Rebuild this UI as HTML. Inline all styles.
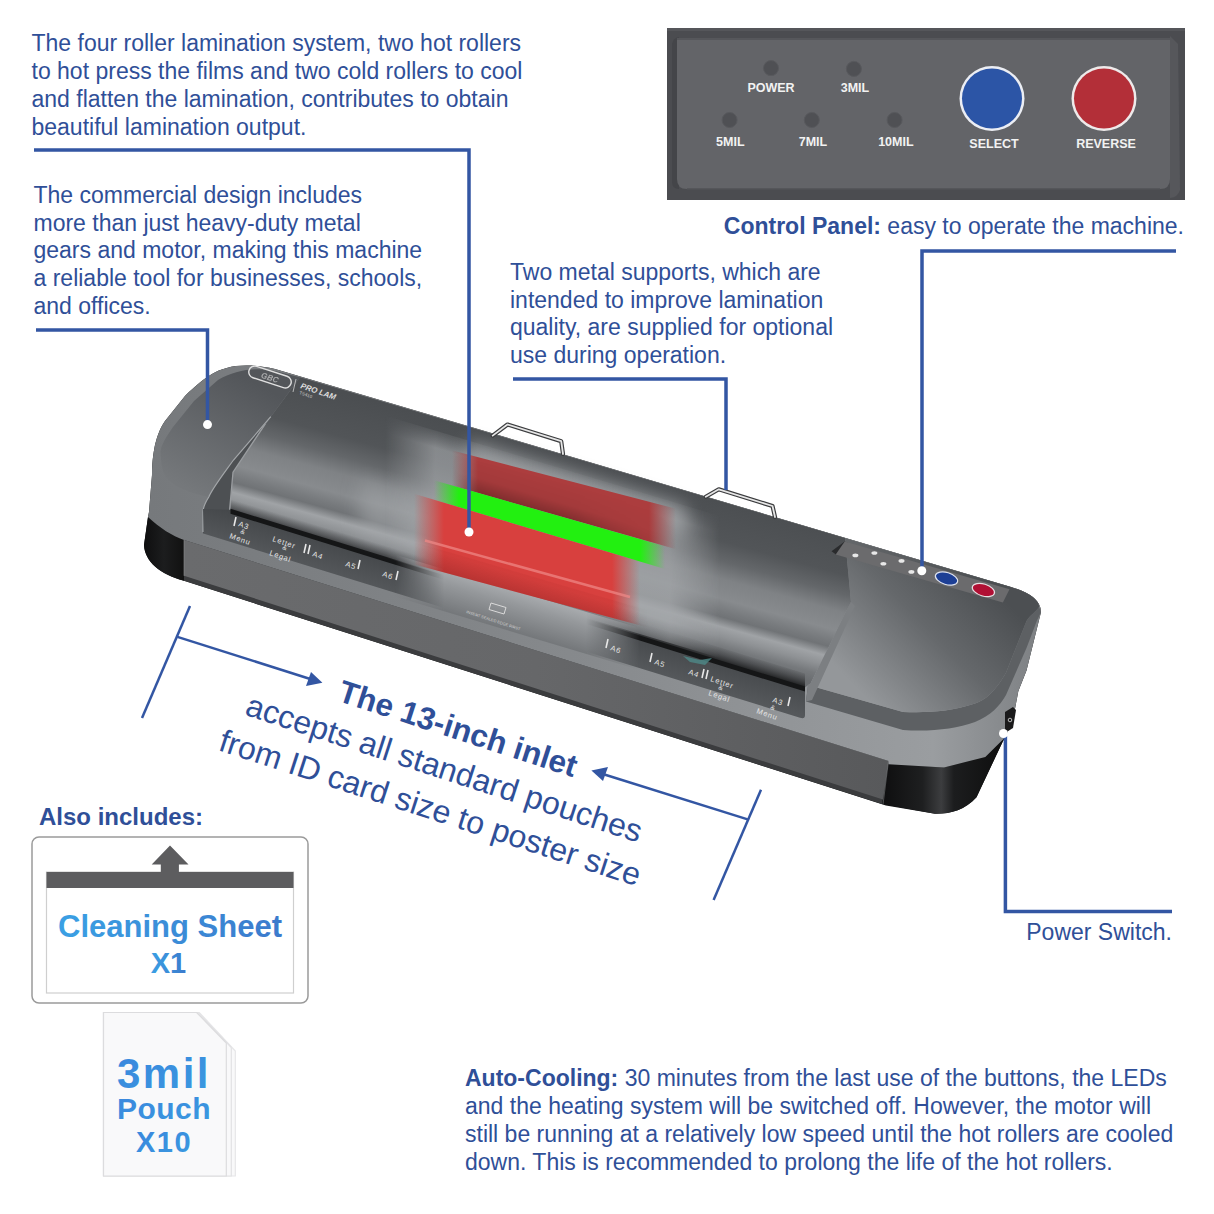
<!DOCTYPE html>
<html><head><meta charset="utf-8"><style>
html,body{margin:0;padding:0;background:#fff;}
svg{display:block;}
text{font-family:"Liberation Sans", sans-serif;}
</style></head><body>
<svg width="1214" height="1214" viewBox="0 0 1214 1214">

<defs>
 <linearGradient id="gTop" x1="0" y1="0" x2="0" y2="1" gradientUnits="objectBoundingBox">
  <stop offset="0" stop-color="#4d5053"/><stop offset="1" stop-color="#55585b"/>
 </linearGradient>
 <linearGradient id="gLCap" gradientUnits="userSpaceOnUse" x1="250" y1="380" x2="190" y2="490">
  <stop offset="0" stop-color="#53565a"/><stop offset="1" stop-color="#75787b"/>
 </linearGradient>
 <linearGradient id="gRCap" gradientUnits="userSpaceOnUse" x1="1000" y1="595" x2="880" y2="712">
  <stop offset="0" stop-color="#4c4f52"/><stop offset="0.45" stop-color="#65686b"/><stop offset="1" stop-color="#94979a"/>
 </linearGradient>
 <linearGradient id="gCover" gradientUnits="userSpaceOnUse" x1="0" y1="286" x2="0" y2="446" gradientTransform="matrix(1,0.275,0,1,0,12.5)"><stop offset="0.000" stop-color="#4b4e51"/><stop offset="0.275" stop-color="#525558"/><stop offset="0.400" stop-color="#64676a"/><stop offset="0.512" stop-color="#7f8285"/><stop offset="0.637" stop-color="#888b8e"/><stop offset="0.713" stop-color="#777a7d"/><stop offset="0.750" stop-color="#707376"/><stop offset="0.812" stop-color="#a0a3a6"/><stop offset="0.875" stop-color="#8e9194"/><stop offset="0.938" stop-color="#76797c"/><stop offset="1.000" stop-color="#6a6d70"/></linearGradient>
 <linearGradient id="gLip" gradientUnits="userSpaceOnUse" x1="0" y1="430" x2="0" y2="446" gradientTransform="matrix(1,0.3,0,1,0,0)">
  <stop offset="0" stop-color="#2a2b2d" stop-opacity="0"/><stop offset="0.5" stop-color="#2a2b2d" stop-opacity="0.45"/><stop offset="1" stop-color="#1a1b1c" stop-opacity="0.95"/>
 </linearGradient>
 <linearGradient id="gRed1" gradientUnits="userSpaceOnUse" x1="452" y1="0" x2="676" y2="0" gradientTransform="matrix(1,0.3,0,1,0,0)">
  <stop offset="0" stop-color="#ac3d3e" stop-opacity="0"/><stop offset="0.11607142857142858" stop-color="#ac3d3e" stop-opacity="1"/><stop offset="0.8794642857142857" stop-color="#ac3d3e" stop-opacity="1"/><stop offset="1" stop-color="#ac3d3e" stop-opacity="0"/>
 </linearGradient>
 <linearGradient id="gRed1v" gradientUnits="userSpaceOnUse" x1="0" y1="313" x2="0" y2="349" gradientTransform="matrix(1,0.3,0,1,0,0)">
  <stop offset="0" stop-color="#000" stop-opacity="0"/><stop offset="0.6" stop-color="#000" stop-opacity="0.05"/><stop offset="1" stop-color="#000" stop-opacity="0.25"/>
 </linearGradient>
 <linearGradient id="gGreen" gradientUnits="userSpaceOnUse" x1="434" y1="0" x2="665" y2="0" gradientTransform="matrix(1,0.3,0,1,0,0)">
  <stop offset="0" stop-color="#22f010" stop-opacity="0"/><stop offset="0.10822510822510822" stop-color="#22f010" stop-opacity="1"/><stop offset="0.8917748917748918" stop-color="#22f010" stop-opacity="1"/><stop offset="1" stop-color="#22f010" stop-opacity="0"/>
 </linearGradient>
 <linearGradient id="gRed2" gradientUnits="userSpaceOnUse" x1="414" y1="0" x2="640" y2="0" gradientTransform="matrix(1,0.3,0,1,0,0)">
  <stop offset="0" stop-color="#d8403e" stop-opacity="0"/><stop offset="0.13274336283185842" stop-color="#d8403e" stop-opacity="1"/><stop offset="0.8761061946902655" stop-color="#d8403e" stop-opacity="1"/><stop offset="1" stop-color="#d8403e" stop-opacity="0"/>
 </linearGradient>
 <linearGradient id="gBand" gradientUnits="userSpaceOnUse" x1="150" y1="0" x2="1040" y2="0">
  <stop offset="0" stop-color="#76797c"/><stop offset="0.5" stop-color="#878a8d"/><stop offset="0.88" stop-color="#9a9da0"/><stop offset="1" stop-color="#7d8083"/>
 </linearGradient>
 <linearGradient id="gFront" gradientUnits="userSpaceOnUse" x1="184" y1="0" x2="888" y2="0">
  <stop offset="0" stop-color="#6a6b6d"/><stop offset="0.5" stop-color="#666769"/><stop offset="1" stop-color="#58595b"/>
 </linearGradient>
 <linearGradient id="gBlack" gradientUnits="userSpaceOnUse" x1="885" y1="0" x2="1010" y2="0">
  <stop offset="0" stop-color="#0f0f10"/><stop offset="0.3" stop-color="#1e1f20"/><stop offset="0.45" stop-color="#3c3d3f"/><stop offset="0.55" stop-color="#1c1d1e"/><stop offset="1" stop-color="#0c0c0c"/>
 </linearGradient>
 <linearGradient id="gBlackL" x1="0" y1="0" x2="1" y2="0">
  <stop offset="0" stop-color="#0e0e0f"/><stop offset="0.5" stop-color="#1c1d1e"/><stop offset="1" stop-color="#111"/>
 </linearGradient>
 <linearGradient id="gTray" gradientUnits="userSpaceOnUse" x1="0" y1="442" x2="0" y2="476" gradientTransform="matrix(1,0.3,0,1,0,0)">
  <stop offset="0" stop-color="#45484b"/><stop offset="1" stop-color="#55585b"/>
 </linearGradient>
 <linearGradient id="gRed1d" gradientUnits="userSpaceOnUse" x1="445" y1="0" x2="640" y2="0" gradientTransform="matrix(1,0.3,0,1,0,0)">
  <stop offset="0" stop-color="#5a1010" stop-opacity="0"/><stop offset="0.2" stop-color="#5a1010" stop-opacity="0.35"/><stop offset="0.8" stop-color="#5a1010" stop-opacity="0.35"/><stop offset="1" stop-color="#5a1010" stop-opacity="0"/>
 </linearGradient>
 <linearGradient id="gRed2d" gradientUnits="userSpaceOnUse" x1="398" y1="0" x2="640" y2="0" gradientTransform="matrix(1,0.3,0,1,0,0)">
  <stop offset="0" stop-color="#801818" stop-opacity="0"/><stop offset="0.2" stop-color="#801818" stop-opacity="0.18"/><stop offset="0.8" stop-color="#801818" stop-opacity="0.18"/><stop offset="1" stop-color="#801818" stop-opacity="0"/>
 </linearGradient>
 <linearGradient id="gGlow" gradientUnits="userSpaceOnUse" x1="420" y1="0" x2="720" y2="0" gradientTransform="matrix(1,0.3,0,1,0,0)">
  <stop offset="0" stop-color="#a4a7aa" stop-opacity="0"/><stop offset="0.25" stop-color="#a4a7aa" stop-opacity="1"/><stop offset="0.75" stop-color="#a4a7aa" stop-opacity="1"/><stop offset="1" stop-color="#a4a7aa" stop-opacity="0"/>
 </linearGradient>
 <linearGradient id="gRed1v" gradientUnits="userSpaceOnUse" x1="0" y1="318" x2="0" y2="349" gradientTransform="matrix(1,0.3,0,1,0,0)">
  <stop offset="0" stop-color="#4a0c0c" stop-opacity="0"/><stop offset="0.6" stop-color="#4a0c0c" stop-opacity="0.25"/><stop offset="1" stop-color="#4a0c0c" stop-opacity="0.5"/>
 </linearGradient>
 <linearGradient id="gRed2v" gradientUnits="userSpaceOnUse" x1="0" y1="420" x2="0" y2="443" gradientTransform="matrix(1,0.3,0,1,0,0)">
  <stop offset="0" stop-color="#5a1010" stop-opacity="0.05"/><stop offset="1" stop-color="#5a1010" stop-opacity="0.3"/>
 </linearGradient>
 <linearGradient id="gMaskH1" gradientUnits="userSpaceOnUse" x1="452" y1="0" x2="676" y2="0" gradientTransform="matrix(1,0.3,0,1,0,0)">
  <stop offset="0" stop-color="#fff" stop-opacity="0"/><stop offset="0.12" stop-color="#fff"/><stop offset="0.55" stop-color="#fff"/><stop offset="1" stop-color="#fff" stop-opacity="0"/>
 </linearGradient>
 <linearGradient id="gMaskH2" gradientUnits="userSpaceOnUse" x1="414" y1="0" x2="648" y2="0" gradientTransform="matrix(1,0.3,0,1,0,0)">
  <stop offset="0" stop-color="#fff" stop-opacity="0"/><stop offset="0.13" stop-color="#fff"/><stop offset="0.87" stop-color="#fff"/><stop offset="1" stop-color="#fff" stop-opacity="0"/>
 </linearGradient>
 <mask id="mRed1" maskUnits="userSpaceOnUse" x="0" y="0" width="1214" height="1214"><rect x="0" y="0" width="1214" height="1214" fill="url(#gMaskH1)"/></mask>
 <mask id="mRed2" maskUnits="userSpaceOnUse" x="0" y="0" width="1214" height="1214"><rect x="0" y="0" width="1214" height="1214" fill="url(#gMaskH2)"/></mask>
 <linearGradient id="gSmearV" gradientUnits="userSpaceOnUse" x1="0" y1="436" x2="0" y2="478" gradientTransform="matrix(1,0.3,0,1,0,0)">
  <stop offset="0" stop-color="#a8abae"/><stop offset="0.35" stop-color="#94979a"/><stop offset="1" stop-color="#74777a"/>
 </linearGradient>
 <linearGradient id="gMaskS" gradientUnits="userSpaceOnUse" x1="395" y1="0" x2="640" y2="0" gradientTransform="matrix(1,0.3,0,1,0,0)">
  <stop offset="0" stop-color="#fff" stop-opacity="0"/><stop offset="0.2" stop-color="#fff"/><stop offset="0.78" stop-color="#fff"/><stop offset="1" stop-color="#fff" stop-opacity="0"/>
 </linearGradient>
 <mask id="mSmear" maskUnits="userSpaceOnUse" x="0" y="0" width="1214" height="1214"><rect x="0" y="0" width="1214" height="1214" fill="url(#gMaskS)"/></mask>
 <linearGradient id="gSmearBig" gradientUnits="userSpaceOnUse" x1="0" y1="300" x2="0" y2="442" gradientTransform="matrix(1,0.3,0,1,0,0)">
  <stop offset="0" stop-color="#8a8d90" stop-opacity="0.2"/><stop offset="0.12" stop-color="#9b9ea1" stop-opacity="0.8"/><stop offset="0.6" stop-color="#a3a6a9" stop-opacity="0.85"/><stop offset="0.85" stop-color="#a6a9ac" stop-opacity="0.9"/><stop offset="1" stop-color="#8a8d90" stop-opacity="0.6"/>
 </linearGradient>
 <linearGradient id="gMaskBig" gradientUnits="userSpaceOnUse" x1="385" y1="0" x2="720" y2="0" gradientTransform="matrix(1,0.3,0,1,0,0)">
  <stop offset="0" stop-color="#fff" stop-opacity="0"/><stop offset="0.15" stop-color="#fff" stop-opacity="0.9"/><stop offset="0.85" stop-color="#fff" stop-opacity="0.9"/><stop offset="1" stop-color="#fff" stop-opacity="0"/>
 </linearGradient>
 <mask id="mSmearBig" maskUnits="userSpaceOnUse" x="0" y="0" width="1214" height="1214"><rect x="0" y="0" width="1214" height="1214" fill="url(#gMaskBig)"/></mask>
 <linearGradient id="gTxt" x1="0" y1="0" x2="1" y2="0">
  <stop offset="0" stop-color="#3aa0e4"/><stop offset="1" stop-color="#3c7acc"/>
 </linearGradient>
 <linearGradient id="gTxt2" x1="0" y1="0" x2="1" y2="1">
  <stop offset="0" stop-color="#3a86dd"/><stop offset="1" stop-color="#3a9ae0"/>
 </linearGradient>
 <filter id="blur" x="-20%" y="-20%" width="140%" height="140%"><feGaussianBlur stdDeviation="7"/></filter>
 <filter id="blurG" x="-30%" y="-100%" width="160%" height="300%"><feGaussianBlur stdDeviation="9"/></filter>
 <filter id="blur1"><feGaussianBlur stdDeviation="1"/></filter>
</defs>
<rect width="1214" height="1214" fill="#fff"/>
<rect x="667" y="28" width="518" height="172" fill="#4b4c50"/>
<rect x="667" y="28" width="518" height="3" fill="#55565a"/>
<path d="M 1170,36 L 1178,44 L 1180,190 Q 1178,197 1170,198 L 1170,36 Z" fill="#56575b"/>
<path d="M 672,44 Q 673,38 679,37 L 679,189 Q 672,189 672,182 Z" fill="#444549"/>
<path d="M 677,39 L 1170,39 L 1170,179 Q 1170,189 1160,189 L 687,189 Q 677,189 677,179 Z" fill="#636468"/>
<path d="M 677,39 L 1170,39" stroke="#56575b" stroke-width="2"/>
<path d="M 687,189 L 1160,189" stroke="#515256" stroke-width="1.5"/>
<circle cx="771" cy="68.1" r="7.5" fill="#4f5054"/><circle cx="771" cy="68.1" r="7.5" fill="none" stroke="#58595d" stroke-width="1"/>
<circle cx="853.9" cy="68.9" r="7.5" fill="#4f5054"/><circle cx="853.9" cy="68.9" r="7.5" fill="none" stroke="#58595d" stroke-width="1"/>
<circle cx="729.6" cy="120" r="7.5" fill="#4f5054"/><circle cx="729.6" cy="120" r="7.5" fill="none" stroke="#58595d" stroke-width="1"/>
<circle cx="811.8" cy="120" r="7.5" fill="#4f5054"/><circle cx="811.8" cy="120" r="7.5" fill="none" stroke="#58595d" stroke-width="1"/>
<circle cx="894.6" cy="120" r="7.5" fill="#4f5054"/><circle cx="894.6" cy="120" r="7.5" fill="none" stroke="#58595d" stroke-width="1"/>
<text x="771" y="91.5" font-size="12.5" font-weight="bold" fill="#f2f2f2" text-anchor="middle">POWER</text>
<text x="855" y="91.5" font-size="12.5" font-weight="bold" fill="#f2f2f2" text-anchor="middle">3MIL</text>
<text x="730.3" y="146" font-size="12.5" font-weight="bold" fill="#f2f2f2" text-anchor="middle">5MIL</text>
<text x="813" y="146" font-size="12.5" font-weight="bold" fill="#f2f2f2" text-anchor="middle">7MIL</text>
<text x="895.9" y="146" font-size="12.5" font-weight="bold" fill="#f2f2f2" text-anchor="middle">10MIL</text>
<circle cx="992" cy="98.5" r="32.5" fill="#eceef4"/><circle cx="992" cy="98.5" r="30" fill="#2c55a6"/>
<circle cx="1104" cy="98.5" r="32.5" fill="#eeeaea"/><circle cx="1104" cy="98.5" r="30" fill="#b32f38"/>
<text x="994" y="148" font-size="12.5" font-weight="bold" fill="#f2f2f2" text-anchor="middle">SELECT</text>
<text x="1106" y="148" font-size="12.5" font-weight="bold" fill="#f2f2f2" text-anchor="middle">REVERSE</text>
<path d="M 275.0,369.0 L 1011.0,586.9 C 1028,592 1041,600 1041,612 L 1026.5,670.6 L 1018.3,691.2 L 1014,714 L 1006,736.5 L 1002.9,741.2 L 976.5,797.2 C 965,810 950,814 935,813.7 L 885.9,805.4 L 184.0,580.8 C 160,574 145,562 144,545 L 148,517 L 149,512 L 152,475 C 152,460 154,450 155,445 C 158,433 161,427 165,421 L 185,396 C 195,386 205,378 212,374 C 225,366 245,362 275,369 Z" fill="#121314"/>
<path d="M 888.5,764.3 L 944,767.4 L 985.3,757 L 1006,736.5 L 1002.9,741.2 L 976.5,797.2 C 965,810 950,814 935,813.7 L 882,804.1 Z" fill="url(#gBlack)"/>
<path d="M 148,517 C 160,528 172,536 184,540 L 184,580.8 C 160,574 145,562 144,545 Z" fill="url(#gBlackL)"/>
<path d="M 184.0,540.0 L 888.5,761.0 L 882.0,804.1 L 184.0,580.8 Z" fill="#3b3c3e"/>
<path d="M 184.0,540.0 L 888.5,761.0 L 883.0,799.5 L 184.0,575.8 Z" fill="url(#gFront)"/>
<path d="M 184.0,540.0 L 184.0,575.8" stroke="#8a8c8e" stroke-width="1" opacity="0.6"/>
<path d="M 888.5,761.0 L 883.0,804.5" stroke="#8a8c8e" stroke-width="1" opacity="0.5"/>
<path d="M 275.0,369.0 L 1011.0,586.9 C 1028,592 1041,600 1041,612 L 1026.5,670.6 L 1018.3,691.2 L 1014,714 L 1006,736.5 L 985.3,757 L 944,767.4 L 888.5,764.3 L 888.5,761.0 L 184.0,540.0 C 172,536 160,528 148,517 L 149,512 L 152,475 C 152,460 154,450 155,445 C 158,433 161,427 165,421 L 185,396 C 195,386 205,378 212,374 C 225,366 245,362 275,369 Z" fill="url(#gBand)"/>
<path d="M 1039,607 C 1036,612 1030,615 1026.5,621 L 1006,672.7 C 995,692 985,700 975,703.6 C 950,712 925,713 903,712 L 808,685 L 806,701.5 L 903,730 C 930,732 955,729 975,722 C 990,716 1000,706 1006,695 L 1026.5,648 L 1036.8,621 L 1041,612 Z" fill="#5d6063"/>
<path d="M 845.0,537.9 L 1011.0,586.9 C 1028,592 1040,600 1039,607 C 1036,612 1030,615 1026.5,621 L 1006,672.7 C 995,692 985,700 975,703.6 C 950,712 925,713 903,712 L 808,685 L 851,602 Z" fill="url(#gRCap)"/>
<path d="M 300.0,377.2 L 275,371 C 255,367 235,370 218,380 L 194,401 L 173,427 C 166,437 161,445 160.5,452 C 161,462 162,472 166,477 C 172,485 185,492 208.8,497 L 233.5,460 L 270.8,416.7 Z" fill="url(#gLCap)"/>
<path d="M 270.8,416.7 L 230.5,476 L 228.8,509 L 230.5,509.8 L 805.0,687.6 L 810.6,683.3 L 851,602 L 845.0,537.9 L 300.0,377.2 Z" fill="url(#gCover)"/>
<path d="M 230.5,495.8 L 805.0,673.6 L 805.0,687.6 L 230.5,509.8 Z" fill="url(#gLip)"/>
<path d="M 851,602 L 810.6,683.3 L 808,685 L 806,701.5 L 812,700 L 855,606 Z" fill="#7c7f82"/>
<path d="M 270.8,416.7 L 233.5,460 C 222,476 212,489 208.8,497 C 205,503 203,507 203,512 L 203,534 L 229.6,510 L 233,472.2 L 265.3,423.8 Z" fill="#4d5053"/>
<path d="M 270.8,416.7 L 233.5,460 C 222,476 212,489 208.8,497 C 205,503 203,507 203,512 L 203,532" stroke="#a3a6a9" stroke-width="1.2" fill="none"/>
<path d="M 265.3,423.8 L 233,472.2 L 229.6,510" stroke="#9a9da0" stroke-width="1.3" fill="none"/>
<path d="M 203.0,509.0 L 230.5,509.8 L 805.0,687.6 L 805.0,715.3 Q 805,719.3 800,717.7 L 204.0,533.7 Z" fill="url(#gTray)"/>
<path d="M 230.5,508.8 L 805.0,686.6 L 805.0,691.6 L 230.5,513.8 Z" fill="#151617"/>
<path d="M 831.5,551.3 L 844.7,541.4 L 848,543 L 836,554.6 Z" fill="#2a2b2d"/>
<path d="M 844.7,541.4 L 1009.5,589.2 L 1002.9,602.4 L 835.7,554.6 Z" fill="#6b6b6d"/>
<ellipse cx="855.4" cy="555.4" rx="3" ry="1.8" fill="#e8e8e8"/>
<ellipse cx="874.4" cy="553" rx="3" ry="1.8" fill="#e8e8e8"/>
<ellipse cx="883.4" cy="563.7" rx="3" ry="1.8" fill="#e8e8e8"/>
<ellipse cx="901.5" cy="560.9" rx="3" ry="1.8" fill="#e8e8e8"/>
<ellipse cx="911.4" cy="571.9" rx="3" ry="1.8" fill="#e8e8e8"/>
<ellipse cx="946.5" cy="578.5" rx="11.5" ry="6" transform="rotate(17 946.5 578.5)" fill="#1d3f95" stroke="#dfe3ee" stroke-width="1.2"/>
<ellipse cx="983.4" cy="590" rx="11.5" ry="6" transform="rotate(17 983.4 590)" fill="#b01034" stroke="#e6dfe2" stroke-width="1.2"/>
<path d="M 468.0,442.4 L 685.0,507.5 L 685.0,535.5 L 468.0,470.4 Z" fill="#a6a9ac" opacity="0.9" filter="url(#blurG)"/>
<path d="M 360.0,480.0 L 430.0,501.0 L 430.0,554.0 L 360.0,533.0 Z" fill="#a6a9ac" opacity="0.5" filter="url(#blurG)"/>
<path d="M 370.0,411.0 L 730.0,519.0 L 730.0,661.0 L 370.0,553.0 Z" fill="url(#gSmearBig)" mask="url(#mSmearBig)"/>
<path d="M 380.0,550.0 L 660.0,634.0 L 660.0,676.0 L 380.0,592.0 Z" fill="url(#gSmearV)" mask="url(#mSmear)"/>
<path d="M 440.0,447.2 L 700.0,515.0 L 700.0,556.1 L 440.0,482.0 Z" fill="url(#gRed1)"/>
<path d="M 440.0,451.2 L 700.0,519.0 L 700.0,556.1 L 440.0,482.0 Z" fill="url(#gRed1v)" mask="url(#mRed1)"/>
<path d="M 405.0,472.1 L 685.0,551.9 L 685.0,575.0 L 405.0,491.0 Z" fill="url(#gGreen)"/>
<path d="M 385.0,485.0 L 660.0,567.5 L 660.0,630.8 L 385.0,556.5 Z" fill="url(#gRed2)"/>
<path d="M 385.0,533.5 L 660.0,614.0 L 660.0,630.8 L 385.0,556.5 Z" fill="url(#gRed2v)" mask="url(#mRed2)"/>
<path d="M 425.0,540.5 L 630.0,597.0" stroke="#f08a88" stroke-width="2.5" opacity="0.7"/>
<path d="M 492.7,435.6 L 507.5,424.5 L 561.2,441.2 L 563.0,454.0" stroke="#3c3d3f" stroke-width="4.2" fill="none" stroke-linejoin="round" stroke-linecap="round"/>
<path d="M 492.7,435.6 L 507.5,424.5 L 561.2,441.2 L 563.0,454.0" stroke="#e6e6e6" stroke-width="1.8" fill="none" stroke-linejoin="round" stroke-linecap="round"/>
<path d="M 705.8,496.8 L 718.8,489.3 L 772.5,506.0 L 775.0,517.0" stroke="#3c3d3f" stroke-width="4.2" fill="none" stroke-linejoin="round" stroke-linecap="round"/>
<path d="M 705.8,496.8 L 718.8,489.3 L 772.5,506.0 L 775.0,517.0" stroke="#e6e6e6" stroke-width="1.8" fill="none" stroke-linejoin="round" stroke-linecap="round"/>
<path d="M 1005,712 L 1013,707 L 1016,710 L 1013,728 L 1005,733 Z" fill="#1a1a1b"/>
<circle cx="1010" cy="720" r="1.8" fill="none" stroke="#ddd" stroke-width="0.8"/>
<path d="M 236,517 L 234,526" stroke="#e8e8e8" stroke-width="1.6"/>
<text x="238" y="526" font-size="7.5" fill="#e4e4e4" text-anchor="start" transform="rotate(19 238 526)" letter-spacing="0.8">A3</text>
<text x="240" y="533" font-size="6.5" fill="#e4e4e4" text-anchor="start" transform="rotate(19 240 533)" letter-spacing="0.8">&amp;</text>
<text x="229" y="538" font-size="7.5" fill="#e4e4e4" text-anchor="start" transform="rotate(19 229 538)" letter-spacing="0.8">Menu</text>
<text x="272" y="541" font-size="7.5" fill="#e4e4e4" text-anchor="start" transform="rotate(19 272 541)" letter-spacing="0.8">Letter</text>
<text x="282" y="549" font-size="6.5" fill="#e4e4e4" text-anchor="start" transform="rotate(19 282 549)" letter-spacing="0.8">&amp;</text>
<text x="269" y="555" font-size="7.5" fill="#e4e4e4" text-anchor="start" transform="rotate(19 269 555)" letter-spacing="0.8">Legal</text>
<path d="M 306,544 L 304,553" stroke="#e8e8e8" stroke-width="1.6"/>
<path d="M 310,545 L 308,554" stroke="#e8e8e8" stroke-width="1.6"/>
<text x="312" y="556" font-size="7.5" fill="#e4e4e4" text-anchor="start" transform="rotate(19 312 556)" letter-spacing="0.8">A4</text>
<text x="345" y="566" font-size="7.5" fill="#e4e4e4" text-anchor="start" transform="rotate(19 345 566)" letter-spacing="0.8">A5</text>
<path d="M 360,560 L 358,569" stroke="#e8e8e8" stroke-width="1.6"/>
<text x="382" y="576" font-size="7.5" fill="#e4e4e4" text-anchor="start" transform="rotate(19 382 576)" letter-spacing="0.8">A6</text>
<path d="M 398,571 L 396,580" stroke="#e8e8e8" stroke-width="1.6"/>
<path d="M 608,639 L 606,648" stroke="#e8e8e8" stroke-width="1.6"/>
<text x="610" y="650" font-size="7.5" fill="#e4e4e4" text-anchor="start" transform="rotate(19 610 650)" letter-spacing="0.8">A6</text>
<path d="M 652,653 L 650,662" stroke="#e8e8e8" stroke-width="1.6"/>
<text x="654" y="664" font-size="7.5" fill="#e4e4e4" text-anchor="start" transform="rotate(19 654 664)" letter-spacing="0.8">A5</text>
<text x="688" y="674" font-size="7.5" fill="#e4e4e4" text-anchor="start" transform="rotate(19 688 674)" letter-spacing="0.8">A4</text>
<path d="M 704,669 L 702,678" stroke="#e8e8e8" stroke-width="1.6"/>
<path d="M 708,670 L 706,679" stroke="#e8e8e8" stroke-width="1.6"/>
<text x="710" y="681" font-size="7.5" fill="#e4e4e4" text-anchor="start" transform="rotate(19 710 681)" letter-spacing="0.8">Letter</text>
<text x="718" y="689" font-size="6.5" fill="#e4e4e4" text-anchor="start" transform="rotate(19 718 689)" letter-spacing="0.8">&amp;</text>
<text x="708" y="695" font-size="7.5" fill="#e4e4e4" text-anchor="start" transform="rotate(19 708 695)" letter-spacing="0.8">Legal</text>
<text x="772" y="702" font-size="7.5" fill="#e4e4e4" text-anchor="start" transform="rotate(19 772 702)" letter-spacing="0.8">A3</text>
<path d="M 790,697 L 788,706" stroke="#e8e8e8" stroke-width="1.6"/>
<text x="770" y="709" font-size="6.5" fill="#e4e4e4" text-anchor="start" transform="rotate(19 770 709)" letter-spacing="0.8">&amp;</text>
<text x="756" y="713" font-size="7.5" fill="#e4e4e4" text-anchor="start" transform="rotate(19 756 713)" letter-spacing="0.8">Menu</text>
<path d="M 683,656 L 700,660 L 712,658 L 705,665 L 690,662 Z" fill="#4e8a88" opacity="0.8"/>
<path d="M 491,603 L 506,607.5 L 504,614 L 489,609.5 Z" fill="none" stroke="#dadada" stroke-width="1"/>
<text x="466" y="613" font-size="4" fill="#cfcfcf" transform="rotate(18 466 613)">INSERT SEALED EDGE FIRST</text>
<g transform="rotate(18 270 377)"><rect x="248" y="371" width="44" height="12" rx="6" fill="none" stroke="#e0e0e0" stroke-width="1.4"/><text x="270" y="380.5" font-size="8" font-weight="bold" font-style="italic" fill="#cfcfcf" text-anchor="middle" opacity="0.7">GBC</text></g>
<path d="M 296,379 L 293,392" stroke="#d0d0d0" stroke-width="0.8"/>
<text x="300" y="388" font-size="8" font-style="italic" font-weight="bold" fill="#dedede" transform="rotate(19 300 388)">PRO LAM</text>
<text x="299" y="394" font-size="4.5" fill="#cfcfcf" transform="rotate(19 299 394)">TS410</text>
<path d="M 34.0,150.0 L 469.0,150.0 L 469.0,532.0" stroke="#3356a3" stroke-width="3.5" fill="none" stroke-linejoin="miter"/>
<circle cx="469" cy="532" r="4.5" fill="#fff"/>
<path d="M 36.0,330.0 L 207.5,330.0 L 207.5,424.6" stroke="#3356a3" stroke-width="3.5" fill="none" stroke-linejoin="miter"/>
<circle cx="207.5" cy="424.6" r="4.5" fill="#fff"/>
<path d="M 513.0,379.0 L 726.0,379.0 L 726.0,490.0" stroke="#3356a3" stroke-width="3.5" fill="none" stroke-linejoin="miter"/>
<path d="M 1176.0,251.0 L 922.0,251.0 L 922.0,570.0" stroke="#3356a3" stroke-width="3.5" fill="none" stroke-linejoin="miter"/>
<circle cx="921.8" cy="570.7" r="4.5" fill="#fff"/>
<path d="M 1005.4,736.0 L 1005.4,911.4 L 1172.0,911.4" stroke="#3356a3" stroke-width="3.5" fill="none" stroke-linejoin="miter"/>
<circle cx="1003.5" cy="733.5" r="4.5" fill="#fff"/>
<path d="M 190,606 L 142,718" stroke="#3356a3" stroke-width="2.5"/>
<path d="M 177.4,636.9 L 315,680.5" stroke="#3356a3" stroke-width="2.5"/>
<path d="M 322.4,682.8 L 306,686 L 311,672 Z" fill="#3356a3"/>
<path d="M 761,789.7 L 713.6,900" stroke="#3356a3" stroke-width="2.5"/>
<path d="M 598,772.5 L 747.7,819.4" stroke="#3356a3" stroke-width="2.5"/>
<path d="M 591.4,770.5 L 608,767 L 603,781 Z" fill="#3356a3"/>
<text x="31.5" y="50.7" font-size="23" font-weight="normal" fill="#2f4f98" text-anchor="start" >The four roller lamination system, two hot rollers</text>
<text x="31.5" y="78.80000000000001" font-size="23" font-weight="normal" fill="#2f4f98" text-anchor="start" >to hot press the films and two cold rollers to cool</text>
<text x="31.5" y="106.9" font-size="23" font-weight="normal" fill="#2f4f98" text-anchor="start" >and flatten the lamination, contributes to obtain</text>
<text x="31.5" y="135.0" font-size="23" font-weight="normal" fill="#2f4f98" text-anchor="start" >beautiful lamination output.</text>
<text x="33.5" y="202.6" font-size="23" font-weight="normal" fill="#2f4f98" text-anchor="start" >The commercial design includes</text>
<text x="33.5" y="230.5" font-size="23" font-weight="normal" fill="#2f4f98" text-anchor="start" >more than just heavy-duty metal</text>
<text x="33.5" y="258.4" font-size="23" font-weight="normal" fill="#2f4f98" text-anchor="start" >gears and motor, making this machine</text>
<text x="33.5" y="286.29999999999995" font-size="23" font-weight="normal" fill="#2f4f98" text-anchor="start" >a reliable tool for businesses, schools,</text>
<text x="33.5" y="314.2" font-size="23" font-weight="normal" fill="#2f4f98" text-anchor="start" >and offices.</text>
<text x="510" y="279.7" font-size="23" font-weight="normal" fill="#2f4f98" text-anchor="start" >Two metal supports, which are</text>
<text x="510" y="307.5" font-size="23" font-weight="normal" fill="#2f4f98" text-anchor="start" >intended to improve lamination</text>
<text x="510" y="335.3" font-size="23" font-weight="normal" fill="#2f4f98" text-anchor="start" >quality, are supplied for optional</text>
<text x="510" y="363.1" font-size="23" font-weight="normal" fill="#2f4f98" text-anchor="start" >use during operation.</text>
<text x="1184" y="234" font-size="23" fill="#2f4f98" text-anchor="end"><tspan font-weight="bold">Control Panel:</tspan> easy to operate the machine.</text>
<text x="1172" y="940" font-size="23" font-weight="normal" fill="#2f4f98" text-anchor="end" >Power Switch.</text>
<text x="465" y="1086" font-size="23" fill="#2f4f98"><tspan font-weight="bold">Auto-Cooling:</tspan> 30 minutes from the last use of the buttons, the LEDs</text>
<text x="465" y="1114.2" font-size="23" font-weight="normal" fill="#2f4f98" text-anchor="start" >and the heating system will be switched off. However, the motor will</text>
<text x="465" y="1142.2" font-size="23" font-weight="normal" fill="#2f4f98" text-anchor="start" >still be running at a relatively low speed until the hot rollers are cooled</text>
<text x="465" y="1170.2" font-size="23" font-weight="normal" fill="#2f4f98" text-anchor="start" >down. This is recommended to prolong the life of the hot rollers.</text>
<g transform="translate(2,3) rotate(18)"><text x="658" y="560" font-size="31.5" font-weight="bold" fill="#2f4f98" text-anchor="middle">The 13-inch inlet</text><text x="657" y="602" font-size="32" fill="#2f4f98" text-anchor="middle">accepts all standard pouches</text><text x="656" y="644" font-size="32" fill="#2f4f98" text-anchor="middle">from ID card size to poster size</text></g>
<text x="39" y="824.6" font-size="24" font-weight="bold" fill="#2f4f98" text-anchor="start" >Also includes:</text>
<rect x="32" y="837" width="276" height="166" rx="7" fill="#fff" stroke="#9a9a9a" stroke-width="1.5"/>
<rect x="46.5" y="872" width="247" height="121" fill="#fff" stroke="#cfcfcf" stroke-width="1.2"/>
<rect x="46.5" y="872" width="247" height="16" fill="#5d5d5f"/>
<path d="M 151.7,864.6 L 170,845.6 L 188.5,864.6 L 178.9,864.6 L 178.9,873 L 160.8,873 L 160.8,864.6 Z" fill="#5d5d5f"/>
<text x="170" y="937" font-size="31" font-weight="bold" fill="url(#gTxt)" text-anchor="middle">Cleaning Sheet</text>
<text x="168.5" y="973" font-size="29" font-weight="bold" fill="url(#gTxt)" text-anchor="middle">X1</text>
<path d="M 103.5,1012.5 L 199.3,1012.5 L 235.3,1051.1 L 235.3,1176 L 103.5,1176 Z" fill="#f9f9fa" stroke="#e6e6e8" stroke-width="1.2"/>
<path d="M 103.5,1012.5 L 198.1,1012.5 L 231.3,1047.5 L 231.3,1176 L 103.5,1176 Z" fill="#f9f9fa" stroke="#e2e2e4" stroke-width="1.2"/>
<path d="M 103.5,1012.5 L 196.6,1012.5 L 226.3,1043.0 L 226.3,1176 L 103.5,1176 Z" fill="#f9f9fa" stroke="#dcdcde" stroke-width="1.2"/>
<text x="164" y="1087.6" font-size="42" font-weight="bold" fill="url(#gTxt2)" text-anchor="middle" letter-spacing="2.5">3mil</text>
<text x="164" y="1119" font-size="30" font-weight="bold" fill="url(#gTxt2)" text-anchor="middle" letter-spacing="0.5">Pouch</text>
<text x="164" y="1151.8" font-size="29" font-weight="bold" fill="url(#gTxt2)" text-anchor="middle" letter-spacing="1.5">X10</text>
</svg>
</body></html>
